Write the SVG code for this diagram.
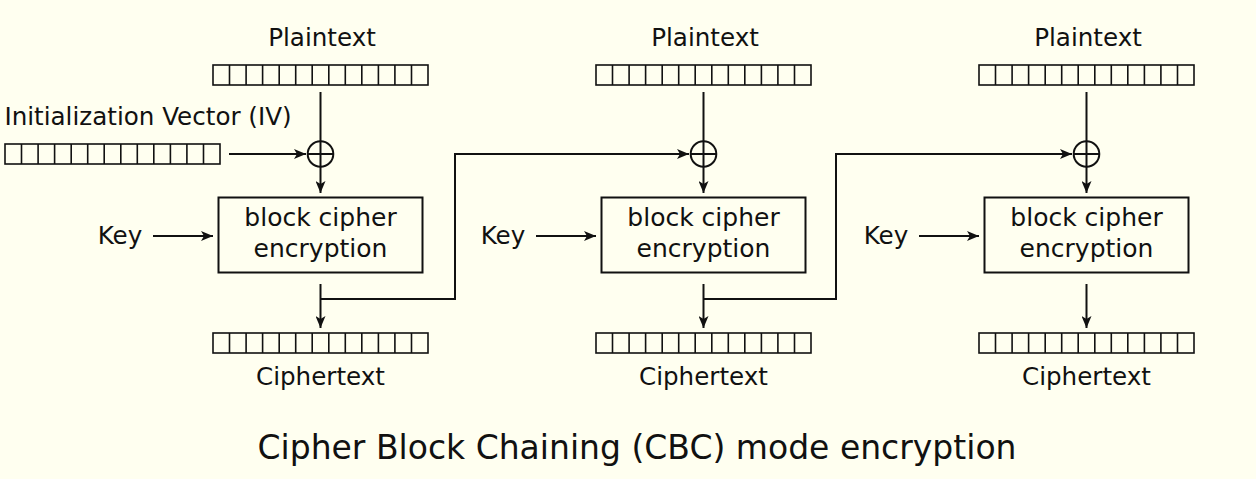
<svg xmlns="http://www.w3.org/2000/svg" width="1256" height="479" viewBox="0 0 1256 479">
<defs>
<style>
text{font-family:"DejaVu Sans","Liberation Sans",sans-serif;font-size:24.6px;fill:#111;text-anchor:middle}
.bt{font-size:25px}
.title{font-size:33px}
.bar{fill:none;stroke:#111;stroke-width:1.6}
.box{fill:none;stroke:#111;stroke-width:2}
.ln{fill:none;stroke:#111;stroke-width:2}
</style>
<marker id="ah" viewBox="0 0 12 10" refX="12" refY="5" markerWidth="12" markerHeight="10" markerUnits="userSpaceOnUse" orient="auto">
<path d="M0,0 L12,5 L0,10 L3,5 Z" fill="#111"/>
</marker>
<g id="cells">
<rect class="bar" x="0" y="0" width="215" height="20"/>
<path class="bar" d="M16.5,0v20M33.1,0v20M49.6,0v20M66.2,0v20M82.7,0v20M99.2,0v20M115.8,0v20M132.3,0v20M148.8,0v20M165.4,0v20M181.9,0v20M198.5,0v20"/>
</g>
<g id="xor">
<circle cx="0" cy="0" r="12.8" fill="none" stroke="#111" stroke-width="2"/>
<path d="M-12.8,0H12.8M0,-12.8V12.8" stroke="#111" stroke-width="2"/>
</g>
</defs>
<rect width="1256" height="479" fill="#fffff0"/>

<g id="iv">
<text x="148" y="125">Initialization Vector (IV)</text>
<use href="#cells" x="5" y="144"/>
</g>

<g id="col1">
<text x="322" y="46">Plaintext</text>
<use href="#cells" x="213" y="65"/>
<use href="#xor" x="320.5" y="154"/>
<rect class="box" x="218.5" y="197.5" width="204" height="75"/>
<text class="bt" x="320.5" y="226">block cipher</text>
<text class="bt" x="320.5" y="257">encryption</text>
<text x="120" y="244">Key</text>
<use href="#cells" x="213" y="333"/>
<text x="320.5" y="385">Ciphertext</text>
</g>

<g id="col2">
<text x="705" y="46">Plaintext</text>
<use href="#cells" x="596" y="65"/>
<use href="#xor" x="703.5" y="154"/>
<rect class="box" x="601.5" y="197.5" width="204" height="75"/>
<text class="bt" x="703.5" y="226">block cipher</text>
<text class="bt" x="703.5" y="257">encryption</text>
<text x="503" y="244">Key</text>
<use href="#cells" x="596" y="333"/>
<text x="703.5" y="385">Ciphertext</text>
</g>

<g id="col3">
<text x="1088" y="46">Plaintext</text>
<use href="#cells" x="979" y="65"/>
<use href="#xor" x="1086.5" y="154"/>
<rect class="box" x="984.5" y="197.5" width="204" height="75"/>
<text class="bt" x="1086.5" y="226">block cipher</text>
<text class="bt" x="1086.5" y="257">encryption</text>
<text x="886" y="244">Key</text>
<use href="#cells" x="979" y="333"/>
<text x="1086.5" y="385">Ciphertext</text>
</g>

<g id="connectors">
<path class="ln" d="M229,154H306" marker-end="url(#ah)"/>
<path class="ln" d="M320.5,92V141.5"/>
<path class="ln" d="M320.5,166.5V193" marker-end="url(#ah)"/>
<path class="ln" d="M153,236H213" marker-end="url(#ah)"/>
<path class="ln" d="M320.5,284V328" marker-end="url(#ah)"/>
<path class="ln" d="M320.5,299H455V154H689" marker-end="url(#ah)"/>

<path class="ln" d="M703.5,92V141.5"/>
<path class="ln" d="M703.5,166.5V193" marker-end="url(#ah)"/>
<path class="ln" d="M536,236H596" marker-end="url(#ah)"/>
<path class="ln" d="M703.5,284V328" marker-end="url(#ah)"/>
<path class="ln" d="M703.5,299H836V154H1072" marker-end="url(#ah)"/>

<path class="ln" d="M1086.5,92V141.5"/>
<path class="ln" d="M1086.5,166.5V193" marker-end="url(#ah)"/>
<path class="ln" d="M919,236H979" marker-end="url(#ah)"/>
<path class="ln" d="M1086.5,284V328" marker-end="url(#ah)"/>
</g>

<text class="title" x="637" y="459">Cipher Block Chaining (CBC) mode encryption</text>
</svg>
